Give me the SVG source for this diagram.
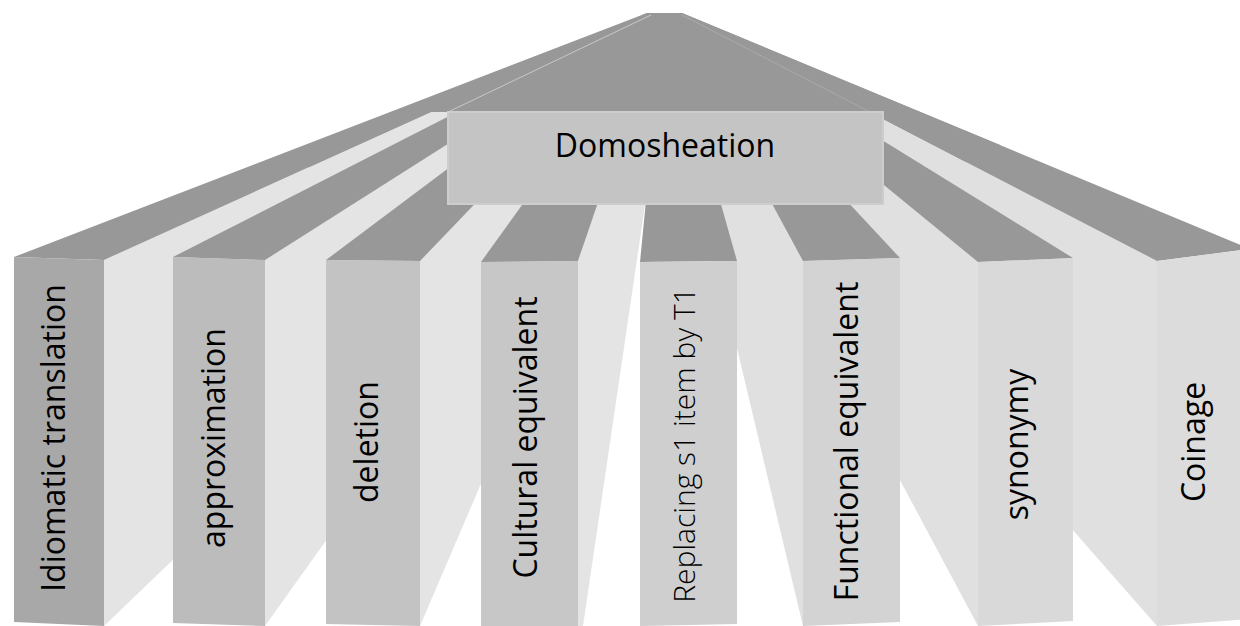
<svg xmlns="http://www.w3.org/2000/svg" width="1240" height="626" viewBox="0 0 1240 626">
<style>
.top{fill:#989898}
.sideL{fill:#e4e4e4}
.sideR{fill:#e0e0e0}
.lbl{font-family:"Open Sans","Liberation Sans",sans-serif;font-size:32px;fill:#000;text-anchor:middle}
.thin{font-size:30px;font-weight:300}
</style>
<defs>
<clipPath id="below">
<rect x="0" y="112" width="1240" height="514"/>
</clipPath>
</defs>
<rect width="1240" height="626" fill="#ffffff"/>
<g id="roof">
<polygon class="top" points="300,165 647,13 682,13 1000,145 882,205 448,205"/>
</g>
<g id="col1">
<polygon class="sideL" clip-path="url(#below)" points="104,260 104,626 600,150 649.5,13"/>
<polygon class="top" points="14,257 104,260 649.5,13 647,13"/>
<polygon fill="#a8a8a8" points="14,257 104,260 104,626 14,622"/>
<text class="lbl" transform="translate(65,438) rotate(-90)">Idiomatic translation</text>
</g>
<g id="col2">
<polygon class="sideL" clip-path="url(#below)" points="265,260 265,626 605,150 654,13"/>
<polygon class="top" points="173,257 265,260 654,13 651.4,13"/>
<polygon fill="#bcbcbc" points="173,257 265,260 265,626 173,623"/>
<text class="lbl" transform="translate(225,438) rotate(-90)">approximation</text>
</g>
<g id="col3">
<polygon class="sideL" clip-path="url(#below)" points="420,261 420,626 624,150 658.2,13"/>
<polygon class="top" points="326,260 420,261 658.2,13 655.6,13"/>
<polygon fill="#c3c3c3" points="326,260 420,261 420,626 326,624"/>
<text class="lbl" transform="translate(378,442) rotate(-90)">deletion</text>
</g>
<g id="col4">
<polygon class="sideL" clip-path="url(#below)" points="578,261 578,626 583,626 645,205 652,150 662.6,13"/>
<polygon class="top" points="481,262 578,261 662.6,13 659.9,13"/>
<polygon fill="#c7c7c7" points="481,262 578,261 578,626 481,626"/>
<text class="lbl" transform="translate(537,437.5) rotate(-90)">Cultural equivalent</text>
</g>
<g id="col8">
<polygon class="sideR" clip-path="url(#below)" points="1157,261 1157,626 739.5,150 678.6,13"/>
<polygon class="top" points="1157,261 1250,249 682,13 678.6,13"/>
<polygon fill="#dcdcdc" points="1157,261 1250,249 1250,619 1157,626"/>
<text class="lbl" transform="translate(1205,442) rotate(-90)">Coinage</text>
</g>
<g id="col7">
<polygon class="sideR" clip-path="url(#below)" points="978,262 978,626 723.5,150 673.6,13"/>
<polygon class="top" points="978,262 1073,258 676.3,13 673.6,13"/>
<polygon fill="#d9d9d9" points="978,262 1073,258 1073,621 978,626"/>
<text class="lbl" transform="translate(1028,444.5) rotate(-90)">synonymy</text>
</g>
<g id="col6">
<polygon class="sideR" clip-path="url(#below)" points="803,261 803,626 703,205 690,150 668.8,13"/>
<polygon class="top" points="803,261 900,258 671.5,13 668.8,13"/>
<polygon fill="#d3d3d3" points="803,261 900,258 900,622 803,626"/>
<text class="lbl" transform="translate(858,441.5) rotate(-90)">Functional equivalent</text>
</g>
<g id="col5">
<polygon class="top" points="640,262 737,261 667,13 664.3,13"/>
<polygon fill="#cfcfcf" points="640,262 737,261 737,624 640,626"/>
<text class="lbl thin" transform="translate(695,445) rotate(-90)">Replacing s1 item by T1</text>
</g>
<g id="seams" fill="none" stroke-width="1">
<line x1="448" y1="112" x2="651" y2="15" stroke="#c8c8c8"/>
<line x1="870" y1="112" x2="682" y2="15" stroke="#aaaaaa"/>
</g>
<g id="domosheation">
<rect x="448" y="112" width="435" height="92" fill="#c4c4c4" stroke="#cdcdcd" stroke-width="2"/>
<text class="lbl" x="665" y="157">Domosheation</text>
</g>
</svg>
